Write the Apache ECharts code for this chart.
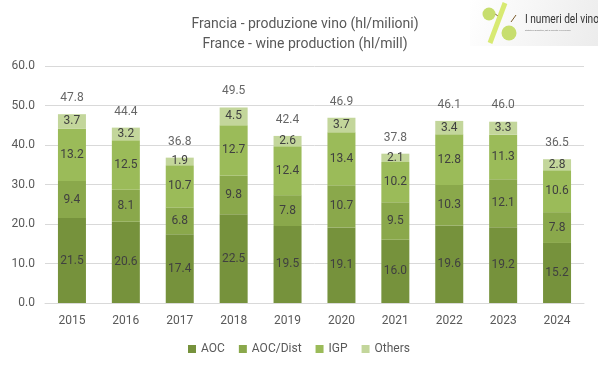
<!DOCTYPE html>
<html><head><meta charset="utf-8">
<script src="https://cdn.jsdelivr.net/npm/echarts@6/dist/echarts.min.js"></script>
<style>html,body{margin:0;padding:0;background:#fff}#c{width:598px;height:369px}</style>
</head><body><div id="c"></div>
<script>
var years = ['2015','2016','2017','2018','2019','2020','2021','2022','2023','2024'];
var aoc = [21.5,20.6,17.4,22.5,19.5,19.1,16.0,19.6,19.2,15.2];
var aocDist = [9.4,8.1,6.8,9.8,7.8,10.7,9.5,10.3,12.1,7.8];
var igp = [13.2,12.5,10.7,12.7,12.4,13.4,10.2,12.8,11.3,10.6];
var others = [3.7,3.2,1.9,4.5,2.6,3.7,2.1,3.4,3.3,2.8];
var totals = [47.8,44.4,36.8,49.5,42.4,46.9,37.8,46.1,46.0,36.5];

var FONT = 'Roboto, "Liberation Sans", sans-serif';
var chart = echarts.init(document.getElementById('c'), null, {renderer:'canvas'});
function seg(name, data, color){
  return {name:name, type:'bar', stack:'t', data:data, barWidth:28,
    itemStyle:{color:color},
    label:{show:true, position:'inside', color:'#404040', fontSize:12, fontFamily:FONT,
      formatter:function(p){return p.value.toFixed(1);}}};
}
chart.setOption({
  animation:false,
  textStyle:{fontFamily:FONT},
  title:{text:'Francia - produzione vino (hl/milioni)\nFrance - wine production (hl/mill)',
    left:300, top:9, textAlign:'center',
    textStyle:{fontSize:14, fontWeight:'normal', color:'#595959', lineHeight:20, fontFamily:FONT}},
  legend:{bottom:9, left:'center', itemWidth:8, itemHeight:8, itemGap:14, icon:'rect',
    textStyle:{color:'#595959', fontSize:12, fontFamily:FONT},
    data:['AOC','AOC/Dist','IGP','Others']},
  grid:{left:45, right:14, top:66, bottom:66},
  xAxis:{type:'category', data:years,
    axisLine:{lineStyle:{color:'#d9d9d9'}}, axisTick:{show:false},
    axisLabel:{color:'#595959', fontSize:12, margin:12}},
  yAxis:{type:'value', min:0, max:60, interval:10,
    axisLabel:{color:'#595959', fontSize:12, margin:10, formatter:function(v){return v.toFixed(1);}},
    splitLine:{lineStyle:{color:'#d9d9d9'}}, axisLine:{show:false}, axisTick:{show:false}},
  series:[
    seg('AOC', aoc, '#76923C'),
    seg('AOC/Dist', aocDist, '#8AA84B'),
    seg('IGP', igp, '#9BBB59'),
    seg('Others', others, '#C3D69B'),
    {name:'Totale', type:'scatter', data:totals, symbol:'circle', symbolSize:2,
      itemStyle:{color:'rgba(0,0,0,0)'},
      label:{show:true, position:'top', distance:9, color:'#404040', fontSize:12, fontFamily:FONT,
        formatter:function(p){return p.value.toFixed(1);}}, silent:true, z:5}
  ],
  graphic:[
    {type:'rect', shape:{x:470, y:0, width:128, height:46},
      style:{fill:new echarts.graphic.LinearGradient(0,0,1,1,[{offset:0,color:'#ffffff'},{offset:1,color:'#ececec'}])}},
    {type:'line', shape:{x1:498, y1:16, x2:488, y2:9}, style:{stroke:'#7a5a2a', lineWidth:1}},
    {type:'circle', shape:{cx:489, cy:14, r:6.5}, style:{fill:'#c7de6e'}},
    {type:'line', shape:{x1:505, y1:3, x2:490, y2:43}, style:{stroke:'#d8ea72', lineWidth:5}},
    {type:'line', shape:{x1:511, y1:22, x2:516, y2:15}, style:{stroke:'#7a5a2a', lineWidth:1}},
    {type:'circle', shape:{cx:509, cy:33, r:7.5}, style:{fill:'#c7de6e'}},
    {type:'text', x:525, y:13, scaleX:0.78, style:{text:'I numeri del vino', fontSize:13, fill:'#333', fontFamily:FONT}},
    {type:'text', x:525, y:29, style:{text:'Statistiche produttive, dati di mercato e di consumo', fontSize:2, fill:'#777', fontFamily:FONT}}
  ]
});
</script></body></html>
